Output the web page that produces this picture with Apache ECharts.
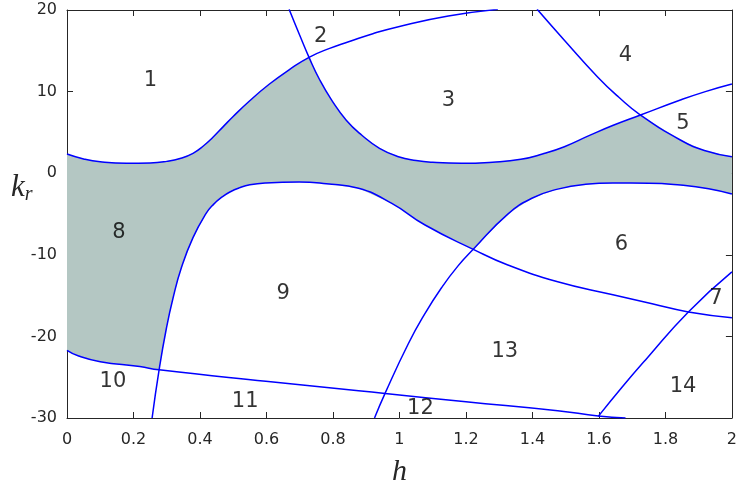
<!DOCTYPE html>
<html>
<head>
<meta charset="utf-8">
<script src="https://cdn.jsdelivr.net/npm/echarts@6/dist/echarts.min.js"></script>
<style>
html, body { margin: 0; padding: 0; background: #fff; }
#main { width: 740px; height: 493px; }
</style>
</head>
<body>
<div id="main"></div>
<script>
// curves of the (h, k_r) diagram
var curveA = [[0,2.35],[0.05,1.75],[0.1,1.4],[0.179,1.21],[0.25,1.25],[0.3,1.45],[0.34,1.8],[0.379,2.44],[0.41,3.33],[0.439,4.41],[0.47,5.71],[0.499,6.92],[0.548,8.82],[0.608,10.9],[0.668,12.67],[0.728,14.2],[0.79,15.3],[0.847,16.1],[0.92,17.1],[0.997,17.96],[1.147,19.26],[1.296,20.08]];
var curveB = [[0.668,20.1],[0.7,16.9],[0.728,14.2],[0.76,11.45],[0.797,8.9],[0.84,6.5],[0.887,4.65],[0.94,3.05],[0.997,2.02],[1.05,1.55],[1.1,1.33],[1.186,1.21],[1.28,1.35],[1.365,1.7],[1.43,2.35],[1.496,3.25],[1.57,4.6],[1.645,5.9],[1.725,7.13],[1.845,8.97],[1.92,10.0],[2.0,10.93]];
var curveC = [[1.414,20.1],[1.496,16.3],[1.596,11.8],[1.66,9.3],[1.725,7.13],[1.845,4.07],[1.92,2.75],[2.0,2.02]];
var curveD = [[0.256,-30],[0.277,-24.1],[0.299,-19.0],[0.319,-15.3],[0.344,-11.6],[0.379,-7.9],[0.419,-4.9],[0.44,-3.85],[0.468,-2.87],[0.49,-2.3],[0.518,-1.8],[0.55,-1.42],[0.598,-1.19],[0.698,-1.08],[0.78,-1.3],[0.877,-1.85],[0.977,-3.7],[1.077,-6.35],[1.222,-9.33],[1.326,-11.25],[1.476,-13.3],[1.642,-14.9],[1.76,-16.0],[1.869,-17.0],[2.0,-17.7]];
var curveE = [[0.925,-30],[0.957,-26.95],[1.027,-20.87],[1.077,-17.18],[1.126,-14.07],[1.175,-11.42],[1.222,-9.33],[1.326,-5.01],[1.4,-3.04],[1.476,-1.95],[1.56,-1.36],[1.642,-1.2],[1.75,-1.22],[1.845,-1.45],[1.93,-1.9],[2.0,-2.55]];
var curveF = [[0,-21.7],[0.035,-22.4],[0.1,-23.1],[0.219,-23.7],[0.277,-24.1],[0.598,-25.5],[0.877,-26.65],[0.957,-27.0],[1.2,-28.0],[1.476,-29.1],[1.598,-29.75],[1.68,-30.0]];
var curveH = [[1.598,-29.8],[1.67,-26.2],[1.744,-22.7],[1.869,-17.0],[2.0,-12.1]];

// crossing points bounding the shaded band
var crossAB = [0.728, 14.2];
var crossBC = [1.725, 7.13];
var crossDE = [1.222, -9.33];
var crossDF = [0.277, -24.1];

// region numbers
var regionNames = ['1','2','3','4','5','6','7','8','9','10','11','12','13','14'];
var regionPos = [[0.251,11.3],[0.763,16.8],[1.147,8.85],[1.68,14.4],[1.853,6.1],[1.668,-8.8],[1.952,-15.3],[0.156,-7.3],[0.65,-14.7],[0.138,-25.5],[0.536,-28.0],[1.063,-28.8],[1.317,-21.9],[1.853,-26.1]];

function between(curve, h0, h1){
	return curve.filter(function(p){ return p[0] >= h0 && p[0] <= h1; });
}

// outline of the shaded band: top edge left to right, bottom edge back
var bandEdge = [].concat(
	between(curveA, 0, crossAB[0]),
	between(curveB, crossAB[0], crossBC[0]),
	between(curveC, crossBC[0], 2),
	between(curveE, crossDE[0], 2).reverse(),
	between(curveD, crossDF[0], crossDE[0]).reverse(),
	between(curveF, 0, crossDF[0]).reverse()
);

var axisColor = '#262626';
var tickFont = { fontFamily: 'DejaVu Sans', fontSize: 16, color: axisColor };

function frameAxis(extra){
	return Object.assign({
		type: 'value',
		axisLine: { show: true, onZero: false, lineStyle: { color: axisColor, width: 1 } },
		axisTick: { inside: true, length: 6, lineStyle: { color: axisColor } },
		splitLine: { show: false }
	}, extra);
}

function lineSeries(data){
	return {
		type: 'line',
		data: data,
		showSymbol: false,
		smooth: 0.5,
		clip: true,
		silent: true,
		z: 3,
		lineStyle: { color: '#0000ff', width: 1.5 }
	};
}

var myChart = echarts.init(document.getElementById('main'));
var option = {
	animation: false,
	grid: { left: 67, right: 5, top: 10, bottom: 75 },
	xAxis: [
		frameAxis({
			min: 0, max: 2, interval: 0.2, position: 'bottom',
			name: 'h', nameLocation: 'middle', nameGap: 39,
			nameTextStyle: { fontFamily: 'Liberation Serif', fontStyle: 'italic', fontSize: 30, color: axisColor },
			axisLabel: Object.assign({ margin: 14 }, tickFont)
		}),
		frameAxis({ min: 0, max: 2, interval: 0.2, position: 'top', axisLabel: { show: false } })
	],
	yAxis: [
		frameAxis({
			min: -30, max: 20, interval: 10, position: 'left',
			axisLabel: Object.assign({ margin: 10 }, tickFont)
		}),
		frameAxis({ min: -30, max: 20, interval: 10, position: 'right', axisLabel: { show: false } })
	],
	graphic: [{
		type: 'text', left: 11, top: 172,
		style: {
			text: '{k|k}{r|r}',
			rich: {
				k: { fontFamily: 'Liberation Serif', fontStyle: 'italic', fontSize: 31, fill: axisColor },
				r: { fontFamily: 'Liberation Serif', fontStyle: 'italic', fontSize: 20, fill: axisColor, padding: [14, 0, 0, 0] }
			}
		}
	}],
	series: [{
		type: 'custom',
		data: [[0, 0]],
		clip: true,
		silent: true,
		z: 1,
		renderItem: function(params, api){
			var pts = bandEdge.map(function(p){ return api.coord(p); });
			return { type: 'polygon', shape: { points: pts }, style: { fill: '#b4c7c3', stroke: null } };
		}
	},
	lineSeries(curveA), lineSeries(curveB), lineSeries(curveC), lineSeries(curveD),
	lineSeries(curveE), lineSeries(curveF), lineSeries(curveH),
	{
		type: 'scatter',
		symbolSize: 0,
		silent: true,
		z: 5,
		data: regionPos.map(function(p, i){ return { name: regionNames[i], value: p }; }),
		label: {
			show: true, position: 'inside', formatter: '{b}',
			fontFamily: 'DejaVu Sans', fontSize: 21, color: '#000'
		}
	}]
};
myChart.setOption(option);
</script>
</body>
</html>
